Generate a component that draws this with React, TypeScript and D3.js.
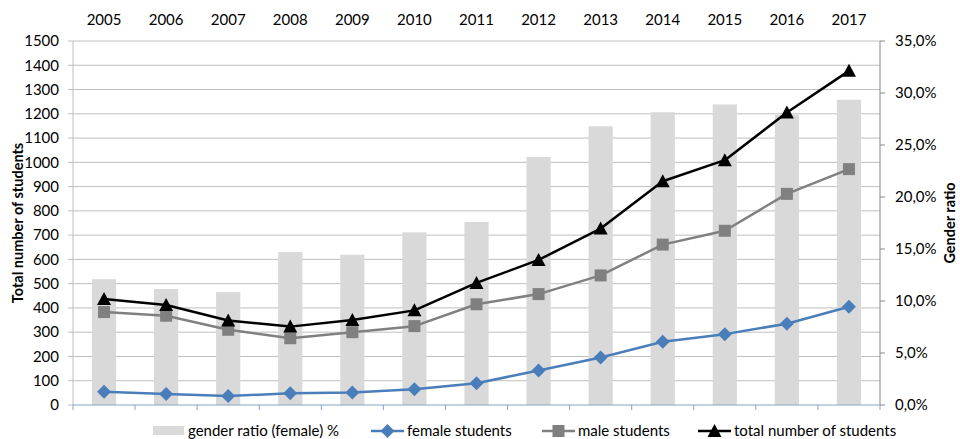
import React from 'react';
import * as d3 from 'd3';

const years = ['2005', '2006', '2007', '2008', '2009', '2010', '2011', '2012', '2013', '2014', '2015', '2016', '2017'];
const genderRatio = [12.1, 11.15, 10.85, 14.7, 14.45, 16.6, 17.6, 23.85, 26.8, 28.15, 28.9, 27.9, 29.35];
const femaleStudents = [55, 45, 37, 48, 52, 65, 90, 142, 196, 261, 292, 335, 405];
const maleStudents = [383, 368, 310, 275, 300, 325, 415, 457, 534, 661, 718, 870, 972];
const totalStudents = [437, 412, 348, 323, 350, 390, 503, 598, 727, 922, 1009, 1205, 1377];
const leftTicks = d3.range(0, 1501, 100);
const rightTicks = [0, 5, 10, 15, 20, 25, 30, 35];

const W = 960, H = 439;
const margin = { top: 41, right: 80, bottom: 34, left: 73 };
const FONT = 'Lato, "Open Sans", sans-serif';
const FS = 15;

const Diamond = ({ x, y, fill }) => (
  <path d={`M${x},${y - 7}L${x + 7},${y}L${x},${y + 7}L${x - 7},${y}Z`} fill={fill} />
);
const Square = ({ x, y, fill }) => (
  <rect x={x - 6} y={y - 6} width={12} height={12} fill={fill} />
);
const Triangle = ({ x, y, fill }) => (
  <path d={`M${x},${y - 7}L${x + 7},${y + 6}L${x - 7},${y + 6}Z`} fill={fill} />
);

export default function App() {
  const x0 = margin.left, x1 = W - margin.right;
  const y0 = H - margin.bottom, y1 = margin.top;

  const x = d3.scaleBand().domain(years).range([x0, x1]).paddingInner(0).paddingOuter(0);
  const cx = d => x(d) + x.bandwidth() / 2;
  const y = d3.scaleLinear().domain([0, 1500]).range([y0, y1]);
  const yr = d3.scaleLinear().domain([0, 35]).range([y0, y1]);
  const barW = x.bandwidth() * 0.39;

  const line = d3.line<number>().x((d, i) => cx(years[i])).y(d => y(d));

  const series = [
    { name: 'female students', data: femaleStudents, color: '#4a7ebb', Marker: Diamond },
    { name: 'male students', data: maleStudents, color: '#808080', Marker: Square },
    { name: 'total number of students', data: totalStudents, color: '#000000', Marker: Triangle },
  ];

  const fmtPct = d => d.toFixed(1).replace('.', ',') + '%';

  return (
    <svg width={W} height={H} style={{ position: 'absolute', left: 0, top: 0, background: '#fff' }} fontFamily={FONT}>
      {/* gridlines */}
      {leftTicks.filter(t => t > 0).map(t => (
        <line key={t} x1={x0} x2={x1} y1={y(t)} y2={y(t)} stroke="#bfbfbf" strokeWidth={1} />
      ))}
      {/* bars */}
      {genderRatio.map((v, i) => (
        <rect key={i} x={cx(years[i]) - barW / 2} y={yr(v)} width={barW} height={y0 - yr(v)} fill="#d9d9d9" />
      ))}
      {/* axes */}
      <line x1={x0} x2={x0} y1={y1} y2={y0} stroke="#bfbfbf" />
      <line x1={x1} x2={x1} y1={y1} y2={y0} stroke="#868686" />
      {leftTicks.map(t => (
        <g key={t}>
          <line x1={x0 - 5} x2={x0} y1={y(t)} y2={y(t)} stroke="#bfbfbf" />
          <text x={x0 - 14} y={y(t)} dy="0.35em" textAnchor="end" fontSize={FS} fill="#000">{t}</text>
        </g>
      ))}
      {rightTicks.map(t => (
        <g key={t}>
          <line x1={x1} x2={x1 + 5} y1={yr(t)} y2={yr(t)} stroke="#868686" />
          <text x={x1 + 15} y={yr(t)} dy="0.35em" textAnchor="start" fontSize={FS} fill="#000">{fmtPct(t)}</text>
        </g>
      ))}
      <line x1={x0} x2={x1} y1={y0} y2={y0} stroke="#86a3c9" strokeWidth={1} />
      {years.map(d => (
        <line key={d} x1={x(d)} x2={x(d)} y1={y0} y2={y0 + 5} stroke="#86a3c9" />
      ))}
      <line x1={x1} x2={x1} y1={y0} y2={y0 + 5} stroke="#86a3c9" />
      {/* top year labels */}
      {years.map(d => (
        <text key={d} x={cx(d)} y={20} dy="0.35em" textAnchor="middle" fontSize={FS} fill="#000">{d}</text>
      ))}
      {/* lines */}
      {series.map(s => (
        <g key={s.name}>
          <path d={line(s.data)} fill="none" stroke={s.color} strokeWidth={2.5} strokeLinejoin="round" />
          {s.data.map((v, i) => <s.Marker key={i} x={cx(years[i])} y={y(v)} fill={s.color} />)}
        </g>
      ))}
      {/* axis titles */}
      <text transform={`translate(18,${(y0 + y1) / 2}) rotate(-90)`} textAnchor="middle" dy="0.35em" fontSize={14.5} fontWeight="bold" fill="#000">Total number of students</text>
      <text transform={`translate(950,${(y0 + y1) / 2}) rotate(-90)`} textAnchor="middle" dy="0.35em" fontSize={14.5} fontWeight="bold" fill="#000">Gender ratio</text>
      {/* legend */}
      <g fontSize={FS} fill="#000">
        <rect x={153} y={426} width={31} height={9} fill="#d9d9d9" />
        <text x={188} y={431} dy="0.35em">gender ratio (female) %</text>
        {series.map((s, i) => {
          const lx = [371, 542, 698][i];
          return (
            <g key={s.name}>
              <line x1={lx} x2={lx + 33} y1={431} y2={431} stroke={s.color} strokeWidth={2.5} />
              <s.Marker x={lx + 16.5} y={431} fill={s.color} />
              <text x={lx + 36} y={431} dy="0.35em">{s.name}</text>
            </g>
          );
        })}
      </g>
    </svg>
  );
}
